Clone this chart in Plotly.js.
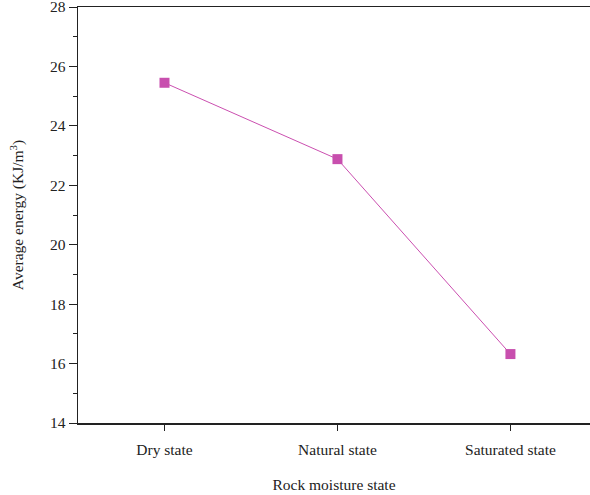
<!DOCTYPE html>
<html>
<head>
<meta charset="utf-8">
<script src="https://cdn.plot.ly/plotly-3.0.1.min.js"></script>
<style>html,body{margin:0;padding:0;background:#fff;}#chart{width:590px;height:495px;}</style>
</head>
<body>
<div id="chart"></div>
<script>
const categories = ["Dry state", "Natural state", "Saturated state"];
const averageEnergy = [25.45, 22.88, 16.32];
const yTickValues = [14, 16, 18, 20, 22, 24, 26, 28];

const fontFamily = "Liberation Serif, Times New Roman, serif";
const fs = 15.5;
const trace = {
  x: [0, 1, 2],
  y: averageEnergy,
  type: "scatter",
  mode: "lines+markers",
  line: {color: "#CB4FB0", width: 1},
  marker: {symbol: "square", size: 10, color: "#C84FAE"},
  hoverinfo: "none"
};
const layout = {
  width: 590, height: 495,
  margin: {l: 78, r: 0, t: 7, b: 72},
  paper_bgcolor: "#fff", plot_bgcolor: "#fff",
  showlegend: false,
  font: {family: fontFamily, size: fs, color: "#222"},
  xaxis: {
    range: [-0.5, 2.46],
    tickvals: [0, 1, 2],
    ticktext: categories,
    showgrid: false, zeroline: false,
    showline: true, linecolor: "#222", linewidth: 1.5, mirror: true,
    ticks: "outside", ticklen: 6, tickwidth: 1, tickcolor: "#222",
    ticklabeloverflow: "allow",
    ticklabelstandoff: 6,
    tickfont: {family: fontFamily, size: fs, color: "#222"},
    title: {text: "Rock moisture state", font: {family: fontFamily, size: fs, color: "#222"}, standoff: 22}
  },
  yaxis: {
    range: [14, 28],
    tickvals: yTickValues,
    showgrid: false, zeroline: false,
    showline: true, linecolor: "#222", linewidth: 1.5,
    ticks: "outside", ticklen: 8, tickwidth: 1, tickcolor: "#222",
    ticklabeloverflow: "allow",
    minor: {dtick: 1, ticks: "outside", ticklen: 4, tickwidth: 1, tickcolor: "#222"},
    tickfont: {family: fontFamily, size: fs, color: "#222"},
    title: {text: "Average energy (KJ/m<sup>3</sup>)", font: {family: fontFamily, size: fs, color: "#222"}, standoff: 22}
  }
};
Plotly.newPlot("chart", [trace], layout, {staticPlot: true, displayModeBar: false});
</script>
</body>
</html>
